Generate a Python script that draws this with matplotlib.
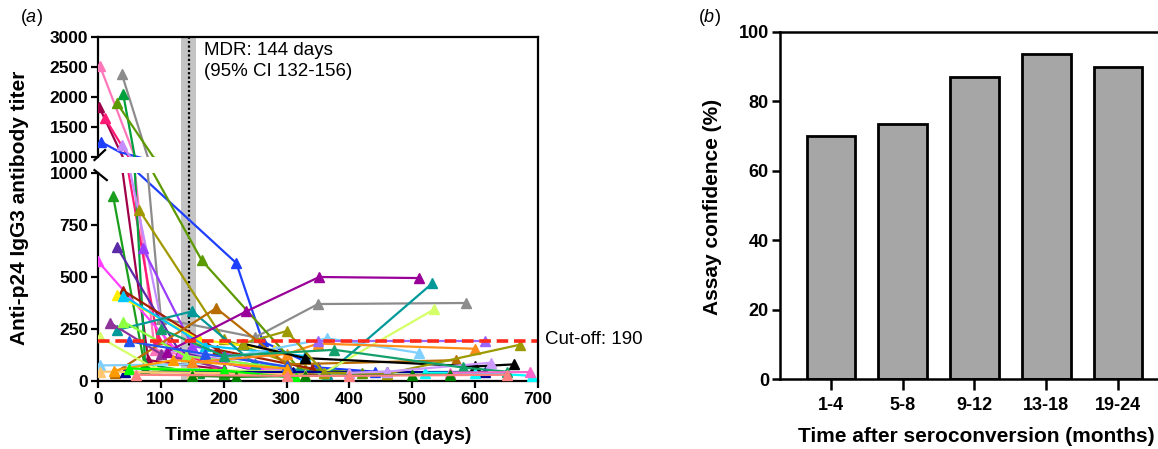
import matplotlib
matplotlib.use("Agg")
import matplotlib.pyplot as plt
from matplotlib.lines import Line2D
from matplotlib.patches import Rectangle
from matplotlib.transforms import blended_transform_factory

plt.rcParams["font.family"] = ["Liberation Sans", "DejaVu Sans"]
plt.rcParams["mathtext.fontset"] = "custom"
plt.rcParams["mathtext.it"] = "Liberation Sans:italic"
plt.rcParams["mathtext.rm"] = "Liberation Sans"

# panel (a): antibody titer per subject over time (days, titer)
series_days = [
    [3, 90, 250, 400],
    [2, 80, 200],
    [11, 95, 200],
    [5, 35, 220, 262, 350, 440],
    [38, 100, 250, 350, 585],
    [40, 75, 160],
    [30, 88, 165, 320, 420],
    [38, 110, 300],
    [24, 75, 200],
    [66, 200, 330],
    [30, 130, 250],
    [71, 150, 300],
    [0, 130, 260],
    [40, 190, 340],
    [30, 160, 280],
    [40, 170, 330],
    [30, 150, 250, 365, 532],
    [27, 188, 300, 570],
    [19, 100, 200],
    [110, 236, 352, 510],
    [40, 140, 300],
    [3, 90, 360, 535],
    [43, 310, 460, 615],
    [50, 170, 300],
    [3, 150, 365, 510],
    [3, 150, 330],
    [25, 120, 300],
    [150, 300, 350, 600],
    [230, 330, 600, 662],
    [230, 300, 360, 460, 672],
    [50, 200, 315],
    [520, 600, 690],
    [400, 460, 625],
    [350, 615],
    [100, 200, 376, 580, 650],
    [560, 688],
    [150, 220, 330, 500, 560],
    [60, 300, 400, 650],
]
series_titer = [
    [2520, 150, 60, 40],
    [1830, 100, 55],
    [1650, 200, 40],
    [1250, 1080, 567, 190, 65, 45],
    [2380, 300, 210, 370, 375],
    [2050, 80, 40],
    [1900, 1000, 580, 60, 40],
    [1200, 150, 50],
    [890, 60, 35],
    [820, 200, 60],
    [645, 140, 50],
    [640, 170, 60],
    [575, 130, 50],
    [435, 150, 60],
    [415, 200, 150],
    [410, 170, 120],
    [245, 335, 80, 35, 470],
    [40, 350, 80, 100],
    [280, 130, 60],
    [140, 335, 500, 495],
    [285, 120, 60],
    [210, 60, 40, 345],
    [42, 42, 42, 42],
    [190, 130, 70],
    [75, 80, 205, 135],
    [45, 40, 30],
    [50, 100, 60],
    [90, 130, 180, 155],
    [180, 110, 70, 80],
    [180, 240, 40, 35, 175],
    [60, 50, 15],
    [40, 40, 25],
    [40, 45, 88],
    [190, 190],
    [250, 120, 150, 65, 45],
    [40, 43],
    [25, 20, 25, 30, 30],
    [30, 25, 25, 30],
]
series_colors = [
    "#ff77bb", "#a0004a", "#ff1a75", "#1f3fff", "#8c8c8c", "#00a03c",
    "#5c9a00", "#c58cff", "#1b9e1b", "#a09a00", "#5b2aa8", "#9b3dff",
    "#ff40ff", "#a02000", "#ffee00", "#00c8ff", "#00999a", "#b86b00",
    "#8e3399", "#990099", "#8cff40", "#d4ff66", "#000090", "#2255ee",
    "#7fd0ff", "#ffc870", "#ff9a00", "#ff8c1a", "#000000", "#9c9a00",
    "#00ff00", "#00ffff", "#cc99ff", "#9966ff", "#13a06a", "#ff66cc",
    "#008000", "#ff8080",
]
cutoff = 190
mdr, ci_low, ci_high = 144, 132, 156

# panel (b)
month_groups = ["1-4", "5-8", "9-12", "13-18", "19-24"]
confidence = [70.1, 73.5, 86.9, 93.6, 89.8]

fig = plt.figure(figsize=(11.58, 4.49), dpi=100)
W, H = 1158, 449

left_a = 98 / W
width_a = 440 / W
low_b, low_h = 68 / H, 208 / H
up_b, up_h = 292 / H, 120 / H

ax_up = fig.add_axes([left_a, up_b, width_a, up_h])
ax_low = fig.add_axes([left_a, low_b, width_a, low_h])

for ax in (ax_up, ax_low):
    ax.set_facecolor("none")
    for d, t, c in zip(series_days, series_titer, series_colors):
        ax.plot(d, t, color=c, lw=1.6, zorder=3)
        # no marker on the points that sit in the axis break
        md = [a for a, b in zip(d, t) if not 960 <= b <= 1100]
        mt = [b for b in t if not 960 <= b <= 1100]
        ax.plot(md, mt, ls="none", color=c, marker="^", ms=6.5, zorder=3)
    ax.set_xlim(0, 700)
    ax.spines["right"].set_visible(False)
    ax.spines["left"].set_linewidth(1.6)
    ax.tick_params(axis="y", direction="out", length=5, width=1.6,
                   labelsize=12.5, pad=2)

ax_low.plot([0, 700], [cutoff, cutoff], color="#ff2a1a", lw=2.6,
            dashes=(3.2, 1.6), zorder=5)

ax_up.set_ylim(1000, 3000)
ax_up.set_yticks([1000, 1500, 2000, 2500, 3000])
ax_up.spines["bottom"].set_visible(False)
ax_up.spines["top"].set_linewidth(1.6)
ax_up.set_xticks([])
ax_up.set_yticklabels(["1000", "1500", "2000", "2500", "3000"], fontweight="bold")

ax_low.set_ylim(0, 1000)
ax_low.set_yticks([0, 250, 500, 750, 1000])
ax_low.set_yticklabels(["0", "250", "500", "750", "1000"], fontweight="bold")
ax_low.spines["top"].set_visible(False)
ax_low.spines["bottom"].set_linewidth(1.6)
ax_low.set_xticks(range(0, 701, 100))
ax_low.set_xticklabels([str(v) for v in range(0, 701, 100)], fontweight="bold")
ax_low.tick_params(axis="x", direction="out", length=5, width=1.6,
                   labelsize=12.5, pad=3)

# MDR band and dotted line spanning both segments
tr = blended_transform_factory(ax_low.transData, fig.transFigure)
fig.patches.append(Rectangle((ci_low, low_b), ci_high - ci_low,
                             up_b + up_h - low_b, transform=tr,
                             color="#c4c4c4", lw=0, zorder=-2))
fig.lines.append(Line2D([mdr, mdr], [low_b, up_b + up_h], transform=tr,
                        color="black", lw=1.6, ls=(0, (1, 1)), zorder=-1))
fig.lines.append(Line2D([700, 700], [low_b, up_b + up_h], transform=tr,
                        color="black", lw=1.6, zorder=4))

# break marks
ax_up.plot([-0.008, 0.016], [-0.025, 0.058], transform=ax_up.transAxes,
           color="black", lw=1.6, clip_on=False)
ax_low.plot([-0.008, 0.02], [1.014, 0.966], transform=ax_low.transAxes,
            color="black", lw=1.6, clip_on=False)

fig.text(204 / W, 1 - 61 / H, "MDR: 144 days\n(95% CI 132-156)",
         fontsize=13.5, va="center", ha="left", linespacing=1.25)
fig.text(545 / W, 1 - 339 / H, "Cut-off: 190", fontsize=13.5,
         va="center", ha="left")
fig.text(20 / W, 1 - 208 / H, "Anti-p24 IgG3 antibody titer", rotation=90,
         fontsize=15, fontweight="bold", ha="center", va="center")
fig.text(318 / W, 1 - 436 / H, "Time after seroconversion (days)",
         fontsize=14, fontweight="bold", ha="center", va="center")
fig.text(31 / W, 1 - 18 / H, r"($\it{a}$)", fontsize=13,
         ha="center", va="center")

# panel (b)
ax_b = fig.add_axes([780 / W, 70 / H, 389 / W, 347 / H])
x = list(range(len(month_groups)))
ax_b.bar(x, confidence, width=0.68, color="#a6a6a6", edgecolor="black", lw=2)
ax_b.set_xlim(-0.71, 4.71)
ax_b.set_ylim(0, 100)
ax_b.set_yticks(range(0, 101, 20))
ax_b.set_yticklabels([str(v) for v in range(0, 101, 20)], fontweight="bold")
ax_b.set_xticks(x)
ax_b.set_xticklabels(month_groups, fontweight="bold")
for s in ax_b.spines.values():
    s.set_linewidth(1.8)
ax_b.tick_params(axis="y", direction="out", length=6, width=1.8,
                 labelsize=13, pad=2)
ax_b.tick_params(axis="x", direction="out", length=8, width=1.8,
                 labelsize=13, pad=5)
fig.text(713 / W, 1 - 207 / H, "Assay confidence (%)", rotation=90,
         fontsize=15, fontweight="bold", ha="center", va="center")
fig.text(976 / W, 1 - 437 / H, "Time after seroconversion (months)",
         fontsize=15, fontweight="bold", ha="center", va="center")
fig.text(709 / W, 1 - 18 / H, r"($\it{b}$)", fontsize=13,
         ha="center", va="center")

fig.savefig("out.png", dpi=100)
